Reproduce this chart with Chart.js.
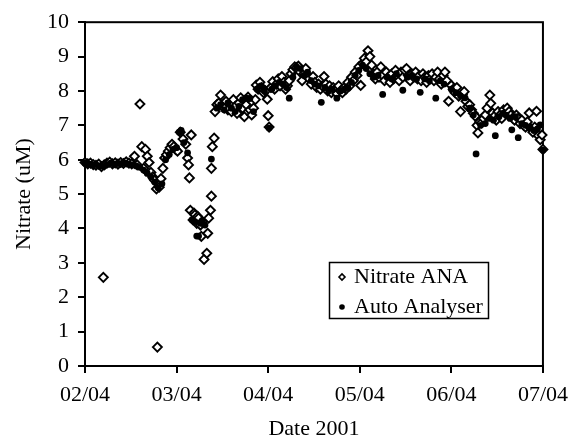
<!DOCTYPE html>
<html>
<head>
<meta charset="utf-8">
<title>Nitrate</title>
<script src="https://cdn.jsdelivr.net/npm/chart.js@4.4.1/dist/chart.umd.min.js"></script>
<style>
  html, body { margin: 0; padding: 0; background: #fff; }
</style>
</head>
<body>
<canvas id="nitrateChart" width="577" height="444"></canvas>
<script>
// x = days after 02/04/2001, y = nitrate (uM)
const dateLabels = ["02/04", "03/04", "04/04", "05/04", "06/04", "07/04"];

const anaDays = [
  0.00, 0.03, 0.06, 0.09, 0.12, 0.15, 0.18, 0.20, 0.21, 0.24, 0.27, 0.30, 0.33, 0.36, 0.39, 0.42, 0.45, 0.48, 0.51,
  0.54, 0.57, 0.60, 0.62, 0.64, 0.66, 0.68, 0.70, 0.72, 0.74, 0.76, 0.78, 0.79, 0.81, 0.83, 0.85,
  0.87, 0.89, 0.91, 0.93, 0.95, 0.97, 0.99, 1.01, 1.04, 1.07, 1.10, 1.12, 1.13, 1.14, 1.16,
  1.15, 1.18, 1.19, 1.20, 1.22, 1.23, 1.24, 1.26, 1.27, 1.28, 1.30, 1.33, 1.34, 1.35, 1.37, 1.38, 1.38, 1.39, 1.41, 1.42,
  1.44, 1.46, 1.48, 1.50, 1.52, 1.54, 1.56, 1.58, 1.60, 1.62, 1.64, 1.66, 1.68, 1.70, 1.72, 1.74, 1.76, 1.78, 1.80, 1.82, 1.84, 1.86,
  1.87, 1.89, 1.91, 1.93, 1.95, 1.97, 1.99, 2.00, 2.01,
  2.03, 2.05, 2.07, 2.09, 2.11, 2.13, 2.15, 2.17, 2.19, 2.21, 2.23, 2.25, 2.27, 2.29, 2.31, 2.33, 2.35, 2.37, 2.39, 2.41,
  2.43, 2.45, 2.47, 2.49, 2.51, 2.53, 2.55, 2.57, 2.59, 2.61,
  2.63, 2.65, 2.67, 2.69, 2.71, 2.73, 2.75, 2.77, 2.79, 2.81, 2.83, 2.85, 2.87, 2.89, 2.91, 2.93, 2.95, 2.97, 2.99, 3.01,
  3.03, 3.05, 3.07, 3.09, 3.11, 3.13, 3.15,
  3.17, 3.19, 3.21, 3.23, 3.25, 3.27, 3.29, 3.31, 3.33, 3.35, 3.37, 3.39, 3.41, 3.43, 3.45, 3.47, 3.49, 3.51, 3.53, 3.55,
  3.57, 3.59, 3.61, 3.63, 3.65, 3.67, 3.69, 3.71, 3.73, 3.75, 3.77, 3.79, 3.81, 3.83, 3.85, 3.87, 3.89, 3.91, 3.93, 3.95, 3.97,
  4.00, 4.02, 4.04, 4.06, 4.08, 4.10, 4.12, 4.14, 4.16, 4.18, 4.20, 4.22, 4.24, 4.26, 4.28,
  4.29, 4.31, 4.33, 4.35, 4.37, 4.39, 4.42, 4.43,
  4.45, 4.47, 4.49, 4.51, 4.53, 4.55, 4.57, 4.59, 4.61, 4.63, 4.65, 4.67, 4.69, 4.71, 4.73, 4.75, 4.77, 4.79, 4.81, 4.83,
  4.85, 4.87, 4.89, 4.91, 4.93, 4.95, 4.97, 4.99, 5.00
];
const anaNitrate = [
  5.92, 5.88, 5.90, 5.86, 5.84, 5.87, 5.80, 2.58, 5.85, 5.90, 5.93, 5.88, 5.91, 5.87, 5.92, 5.89, 5.94, 5.90, 5.88,
  6.10, 5.85, 7.62, 6.38, 5.75, 6.30, 6.10, 5.92, 5.63, 5.50, 5.40, 5.15, 0.55, 5.20, 5.45, 5.75,
  6.05, 6.15, 6.25, 6.35, 6.45, 6.38, 6.30, 6.25, 6.80, 6.60, 6.45, 6.05, 5.85, 5.47, 6.72,
  4.53, 4.25, 4.45, 4.40, 4.15, 4.35, 4.30, 4.10, 3.77, 4.20, 3.10, 3.28, 3.86, 4.30, 4.53, 4.94, 5.75, 6.38, 6.63, 7.40,
  7.60, 7.65, 7.88, 7.55, 7.50, 7.70, 7.45, 7.62, 7.40, 7.75, 7.55, 7.35, 7.65, 7.80, 7.50, 7.25, 7.60, 7.82, 7.45, 7.30, 7.50, 7.75,
  8.17, 8.05, 8.25, 8.10, 7.95, 8.00, 7.76, 7.28, 6.95,
  8.10, 8.27, 8.05, 8.20, 8.35, 8.15, 8.42, 8.25, 8.05, 8.15, 8.30, 8.50, 8.62, 8.70, 8.68, 8.72, 8.55, 8.30, 8.50, 8.65,
  8.45, 8.35, 8.20, 8.42, 8.25, 8.10, 8.20, 8.05, 8.15, 8.42,
  8.20, 8.00, 8.15, 7.95, 8.10, 8.05, 7.92, 8.15, 8.00, 7.95, 8.10, 8.05, 8.25, 8.15, 8.40, 8.30, 8.55, 8.45, 8.70, 8.16,
  8.80, 8.95, 8.85, 9.17, 9.00, 8.75, 8.50,
  8.35, 8.55, 8.40, 8.70, 8.45, 8.30, 8.55, 8.40, 8.25, 8.50, 8.35, 8.60, 8.45, 8.30, 8.55, 8.40, 8.60, 8.65, 8.45, 8.30,
  8.50, 8.40, 8.55, 8.35, 8.45, 8.30, 8.50, 8.40, 8.25, 8.45, 8.35, 8.50, 8.30, 8.40, 8.55, 8.35, 8.20, 8.45, 8.55, 8.30, 7.70,
  8.16, 8.05, 7.95, 8.10, 7.85, 7.40, 7.90, 7.98, 7.70, 7.55, 7.60, 7.45, 7.35, 7.27, 7.00,
  6.78, 7.10, 7.07, 7.20, 7.30, 7.50, 7.88, 7.64,
  7.36, 7.27, 7.15, 7.40, 7.30, 7.20, 7.45, 7.35, 7.50, 7.40, 7.30, 7.21, 7.15, 7.30, 7.20, 7.05, 7.15, 7.00, 6.95, 7.10,
  7.36, 6.90, 6.80, 6.95, 7.41, 6.70, 6.58, 6.72, 6.30
];

const autoDays = [
  0.00, 0.04, 0.08, 0.12, 0.16, 0.20, 0.24, 0.28, 0.32, 0.36, 0.40, 0.44, 0.48, 0.52, 0.56, 0.60, 0.64, 0.68, 0.72, 0.76, 0.80, 0.84,
  0.88, 0.92, 0.96, 1.00, 1.03, 1.05, 1.08, 1.12,
  1.17, 1.20, 1.22, 1.24, 1.26, 1.28, 1.31, 1.38,
  1.44, 1.48, 1.52, 1.56, 1.60, 1.64, 1.68, 1.72, 1.76, 1.80, 1.84,
  1.88, 1.92, 1.96, 2.01,
  2.04, 2.08, 2.12, 2.16, 2.20, 2.23, 2.27, 2.31, 2.35, 2.39, 2.43, 2.47, 2.51, 2.55, 2.58,
  2.62, 2.66, 2.70, 2.75, 2.79, 2.83, 2.87, 2.91, 2.95, 2.99, 3.03, 3.07, 3.11, 3.15,
  3.20, 3.25, 3.30, 3.35, 3.40, 3.47, 3.52, 3.57, 3.62, 3.66, 3.71, 3.76, 3.83, 3.88, 3.92,
  4.00, 4.05, 4.10, 4.15, 4.20, 4.24, 4.27, 4.32, 4.37, 4.42, 4.46, 4.48, 4.52,
  4.56, 4.60, 4.64, 4.66, 4.70, 4.73, 4.77, 4.81, 4.86, 4.90, 4.94, 4.97, 5.00
];
const autoNitrate = [
  5.90, 5.88, 5.85, 5.86, 5.82, 5.80, 5.86, 5.90, 5.87, 5.89, 5.88, 5.90, 5.87, 5.85, 5.82, 5.78, 5.70, 5.60, 5.50, 5.35, 5.18, 5.30,
  6.00, 6.15, 6.30, 6.35, 6.80, 6.85, 6.50, 6.20,
  4.25, 4.20, 3.78, 3.78, 4.15, 4.22, 4.10, 6.02,
  7.50, 7.60, 7.45, 7.65, 7.50, 7.40, 7.55, 7.75, 7.80, 7.78, 7.40,
  8.05, 8.15, 8.00, 6.92,
  8.05, 8.15, 8.25, 8.20, 8.10, 7.79, 8.40, 8.70, 8.65, 8.45, 8.55, 8.30, 8.20, 8.15, 7.67,
  8.10, 8.00, 8.05, 7.79, 8.00, 8.05, 8.10, 8.25, 8.45, 8.60, 8.75, 8.65, 8.50, 8.40,
  8.45, 7.90, 8.40, 8.35, 8.50, 8.02, 8.40, 8.45, 8.35, 7.96, 8.35, 8.30, 7.79, 8.30, 8.20,
  8.05, 7.95, 7.85, 7.80, 7.50, 7.30, 6.17, 7.00, 7.05, 7.20, 7.15, 6.70, 7.25,
  7.35, 7.30, 7.20, 6.87, 7.25, 6.64, 7.05, 7.00, 6.95, 6.85, 6.90, 7.01, 6.28
];

const seriesNames = ["Nitrate ANA", "Auto Analyser"];

const FONT = '"Liberation Serif", "Times New Roman", serif';

// frame around the plot area
const frameBox = {
  id: "frameBox",
  beforeDatasetsDraw(chart) {
    const { ctx, chartArea: a } = chart;
    ctx.save();
    ctx.strokeStyle = "#000";
    ctx.lineWidth = 2;
    ctx.strokeRect(a.left, a.top, a.right - a.left, a.bottom - a.top);
    ctx.restore();
  }
};

// legend box sitting inside the plot, as in the original
const insetLegend = {
  id: "insetLegend",
  afterDraw(chart) {
    const ctx = chart.ctx;
    const box = { x: 329.5, y: 262.5, w: 159, h: 56 };
    ctx.save();
    ctx.fillStyle = "#fff";
    ctx.fillRect(box.x, box.y, box.w, box.h);
    ctx.strokeStyle = "#000";
    ctx.lineWidth = 1.5;
    ctx.strokeRect(box.x, box.y, box.w, box.h);

    ctx.fillStyle = "#fff";
    ctx.lineWidth = 1.6;
    Chart.helpers.drawPoint(ctx, { pointStyle: "rectRot", radius: 3, borderWidth: 1.6 }, 342, 277);
    ctx.fillStyle = "#000";
    Chart.helpers.drawPoint(ctx, { pointStyle: "circle", radius: 2.8, borderWidth: 0 }, 342, 307);

    ctx.font = "22px " + FONT;
    ctx.textBaseline = "middle";
    ctx.fillText(seriesNames[0], 354, 277);
    ctx.fillText(seriesNames[1], 354, 307);
    ctx.restore();
  }
};

const tickFont = { family: FONT, size: 22 };

new Chart(document.getElementById("nitrateChart"), {
  type: "scatter",
  data: {
    datasets: [
      {
        label: seriesNames[0],
        data: anaDays.map((d, i) => ({ x: d, y: anaNitrate[i] })),
        order: 2,
        pointStyle: "rectRot",
        pointRadius: 4.5,
        pointBorderWidth: 1.9,
        pointBackgroundColor: "#fff",
        pointBorderColor: "#000",
        clip: false
      },
      {
        // drawn over the diamonds, like the original
        label: seriesNames[1],
        data: autoDays.map((d, i) => ({ x: d, y: autoNitrate[i] })),
        order: 1,
        pointStyle: "circle",
        pointRadius: 3.4,
        pointBorderWidth: 0,
        pointBackgroundColor: "#000",
        pointBorderColor: "#000",
        clip: false
      }
    ]
  },
  options: {
    responsive: false,
    animation: false,
    layout: { padding: { top: 18, right: 32, left: 0, bottom: 0 } },
    plugins: {
      legend: { display: false },
      tooltip: { enabled: false }
    },
    scales: {
      x: {
        type: "linear",
        min: 0,
        max: 5,
        afterFit: s => { s.height = 78; },
        ticks: {
          stepSize: 1,
          autoSkip: false,
          maxRotation: 0,
          padding: 9,
          color: "#000",
          font: tickFont,
          callback: v => dateLabels[v]
        },
        grid: { display: true, drawOnChartArea: false, drawTicks: true, tickLength: 7, color: "#000", lineWidth: 2 },
        border: { display: true, color: "#000", width: 2 },
        title: { display: true, text: "Date 2001", color: "#000", font: tickFont, padding: { top: 0, bottom: 2 } }
      },
      y: {
        min: 0,
        max: 10,
        afterFit: s => { s.width = 85; },
        ticks: { stepSize: 1, padding: 9, color: "#000", font: tickFont },
        grid: { display: true, drawOnChartArea: false, drawTicks: true, tickLength: 7, color: "#000", lineWidth: 2 },
        border: { display: true, color: "#000", width: 2 },
        title: { display: true, text: "Nitrate (uM)", color: "#000", font: tickFont, padding: { top: 11, bottom: 0 } }
      }
    }
  },
  plugins: [frameBox, insetLegend]
});
</script>
</body>
</html>
